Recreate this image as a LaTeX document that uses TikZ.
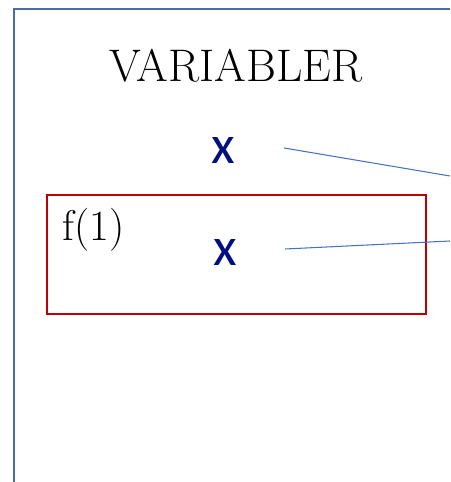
\documentclass[tikz,border=0pt]{standalone}
\usepackage{fontspec}
\newfontfamily\xfont{Carlito}
\usepackage{tikz}
\usetikzlibrary{positioning}
\usepackage{xcolor}
\definecolor{framblue}{HTML}{4A6DAA}
\definecolor{linkblue}{HTML}{4472C4}
\definecolor{varnavy}{HTML}{00107F}
\definecolor{boxred}{HTML}{C00000}

\begin{document}
\begin{tikzpicture}[
    x=0.02cm, y=-0.02cm,
    framline/.style={draw=framblue, line width=1.5pt},
    scopebox/.style={draw=boxred, line width=1.2pt},
    varnode/.style={font=\xfont\fontsize{31}{34}\selectfont, text=varnavy, inner sep=0pt},
    link/.style={draw=linkblue, line width=0.6pt}
]
    \useasboundingbox (0,0) rectangle (450,482);

    % ramme
    \draw[framline] (14,482) -- (14,9) -- (450,9);

    % overskrift
    \node[font=\fontsize{26}{30}\selectfont, anchor=base] (title) at (236,82) {VARIABLER};

    % globalt x
    \node[varnode] (xglob) at (223,150) {x};

    % funksjonskall f(1)
    \draw[scopebox] (47,195) rectangle (426,314);
    \node[font=\fontsize{24.5}{28}\selectfont, anchor=base west, inner sep=0pt] (fcall) at (62,240) {f(1)};
    \node[varnode] (xloc) at (225,252) {x};

    % piler ut mot verdiene
    \coordinate (vglob) at (450,176);
    \coordinate (vloc) at (450,241);
    \draw[link] ([xshift=0.98cm, yshift=0.04cm]xglob.east) -- (vglob);
    \draw[link] ([xshift=0.96cm, yshift=0.06cm]xloc.east) -- (vloc);
\end{tikzpicture}
\end{document}
